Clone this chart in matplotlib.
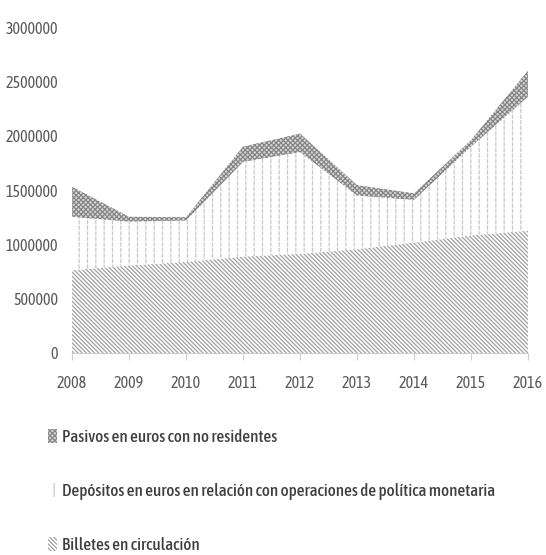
import numpy as np
import matplotlib
matplotlib.use('Agg')
import matplotlib.pyplot as plt
from matplotlib.patches import Patch

# Balance del banco central (pasivo), 2008-2016
anios = [2008, 2009, 2010, 2011, 2012, 2013, 2014, 2015, 2016]
billetes = [763000, 806000, 839000, 888000, 913000, 956000, 1017000, 1083000, 1126000]
depositos = [491000, 404000, 381000, 872000, 937000, 494000, 393000, 817000, 1234000]
pasivos_no_res = [276000, 44000, 30000, 140000, 170000, 95000, 60000, 60000, 240000]

etiquetas = ['Billetes en circulación',
             'Depósitos en euros en relación con operaciones de política monetaria',
             'Pasivos en euros con no residentes']
yticks = [0, 500000, 1000000, 1500000, 2000000, 2500000, 3000000]

plt.rcParams['font.family'] = ['Asap Condensed', 'DejaVu Sans']
plt.rcParams['hatch.linewidth'] = 0.9

fig = plt.figure(figsize=(5.46, 5.55), dpi=100)
ax = fig.add_axes([0.132, 0.364, 0.835, 0.587])

x = np.array(anios)
b = np.array(billetes)
d = b + np.array(depositos)
t = d + np.array(pasivos_no_res)

estilos = [
    dict(facecolor='white', edgecolor='#a0a0a0', hatch='\\' * 8, linewidth=0),
    dict(facecolor='white', edgecolor='#c8c8c8', hatch='||', linewidth=0),
    dict(facecolor='#d8d8d8', edgecolor='#858585', hatch='x' * 7, linewidth=0),
]
ax.fill_between(x, 0, b, **estilos[0])
ax.fill_between(x, b, d, **estilos[1])
# cortes blancos horizontales para que las verticales queden discontinuas
ax.fill_between(x, b, d, facecolor='none', edgecolor='white', hatch='---', linewidth=0)
ax.fill_between(x, d, t, **estilos[2])

ax.set_xlim(2008, 2016)
ax.set_ylim(0, 3000000)
ax.set_xticks(anios)
ax.set_xticklabels([str(a) for a in anios])
ax.set_yticks(yticks)
ax.set_yticklabels([str(v) for v in yticks])

for s in ['top', 'right', 'left']:
    ax.spines[s].set_visible(False)
ax.spines['bottom'].set_color('#d0d0d0')
ax.tick_params(axis='y', length=0, pad=10, labelsize=11.5, labelcolor='#595959')
ax.tick_params(axis='x', length=5, color='#d0d0d0', pad=11, labelsize=11.5, labelcolor='#595959')

handles = [Patch(**estilos[2]), Patch(**estilos[1]), Patch(**estilos[0])]
fig.legend(handles, [etiquetas[2], etiquetas[1], etiquetas[0]],
           loc='upper left', bbox_to_anchor=(0.072, 0.242), frameon=False, borderpad=0,
           handlelength=0.55, handleheight=0.9, handletextpad=0.3,
           labelspacing=2.15, prop=dict(size=12.3, weight='medium'), labelcolor='#404040')

fig.savefig('out.png', dpi=100)
